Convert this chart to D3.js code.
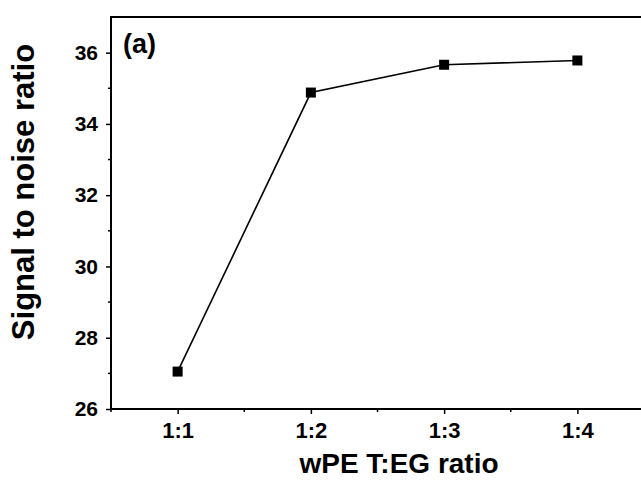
<!DOCTYPE html>
<html>
<head>
  <script src="https://d3js.org/d3.v7.min.js"></script>
  <style type="text/css">
    body { margin: 0; background: #fff; }
    svg text { font-family: "Liberation Sans", Arial, sans-serif; font-weight: bold; fill: #000; }
  </style>
</head>
<body>
<svg id="chart" width="641" height="480"></svg>

<script type="text/javascript">
// data
var ratios = ['1:1', '1:2', '1:3', '1:4'];
var snr = [27.05, 34.88, 35.66, 35.78];
var yTicks = [26, 28, 30, 32, 34, 36];

var svg = d3.select('#chart');

// plot frame; right side runs just off the canvas like the original
var plotL = 111, plotT = 17, plotR = 644, plotB = 409;

var x = d3.scaleLinear().domain([0.5, 4.5]).range([plotL, plotR]);
var y = d3.scaleLinear().domain([26, 37]).range([plotB, plotT]);

var pts = ratios.map(function(r, i) { return { pos: i + 1, v: snr[i] }; });

var minorX = d3.range(0.5, 4.6, 1);
var minorY = d3.range(27, 37, 2);

var xAxis = d3.axisBottom(x).tickValues(ratios.map(function(r, i) { return i + 1; }))
  .tickFormat(function(d) { return ratios[d - 1]; })
  .tickSize(5).tickPadding(8);
var yAxis = d3.axisLeft(y).tickValues(yTicks).tickSize(5).tickPadding(8);

var gx = svg.append('g').attr('transform', 'translate(0,' + plotB + ')').call(xAxis);
var gy = svg.append('g').attr('transform', 'translate(' + plotL + ',0)').call(yAxis);

gx.selectAll('.minor').data(minorX).enter().append('line')
  .attr('x1', function(d) { return x(d); }).attr('x2', function(d) { return x(d); })
  .attr('y1', 0).attr('y2', 3).attr('stroke', '#000').attr('stroke-width', 1.5);
gy.selectAll('.minor').data(minorY).enter().append('line')
  .attr('y1', function(d) { return y(d); }).attr('y2', function(d) { return y(d); })
  .attr('x1', 0).attr('x2', -3).attr('stroke', '#000').attr('stroke-width', 1.5);

[gx, gy].forEach(function(g) {
  g.select('.domain').remove();
  g.selectAll('.tick line').attr('stroke', '#000').attr('stroke-width', 1.5);
  g.selectAll('.tick text').style('font-size', '21px');
});
gx.selectAll('.tick text').style('font-size', '22px');

// axis box lines (left, bottom, top)
svg.append('path')
  .attr('d', 'M' + plotR + ',' + plotT + 'H' + plotL + 'V' + plotB + 'H' + plotR)
  .attr('fill', 'none').attr('stroke', '#000').attr('stroke-width', 2);

// data line + square markers
var line = d3.line().x(function(d) { return x(d.pos); }).y(function(d) { return y(d.v); });
svg.append('path').datum(pts).attr('d', line)
  .attr('fill', 'none').attr('stroke', '#000').attr('stroke-width', 1.6);

svg.selectAll('.mark').data(pts).enter().append('rect')
  .attr('x', function(d) { return x(d.pos) - 5; })
  .attr('y', function(d) { return y(d.v) - 5; })
  .attr('width', 10).attr('height', 10).attr('fill', '#000');

// labels
svg.append('text').attr('x', 123).attr('y', 53).style('font-size', '27px').text('(a)');

svg.append('text').attr('x', 399).attr('y', 473).attr('text-anchor', 'middle')
  .style('font-size', '28px').text('wPE T:EG ratio');

svg.append('text').attr('transform', 'translate(34,192) rotate(-90)')
  .attr('text-anchor', 'middle').style('font-size', '31px').text('Signal to noise ratio');
</script>
</body>
</html>
